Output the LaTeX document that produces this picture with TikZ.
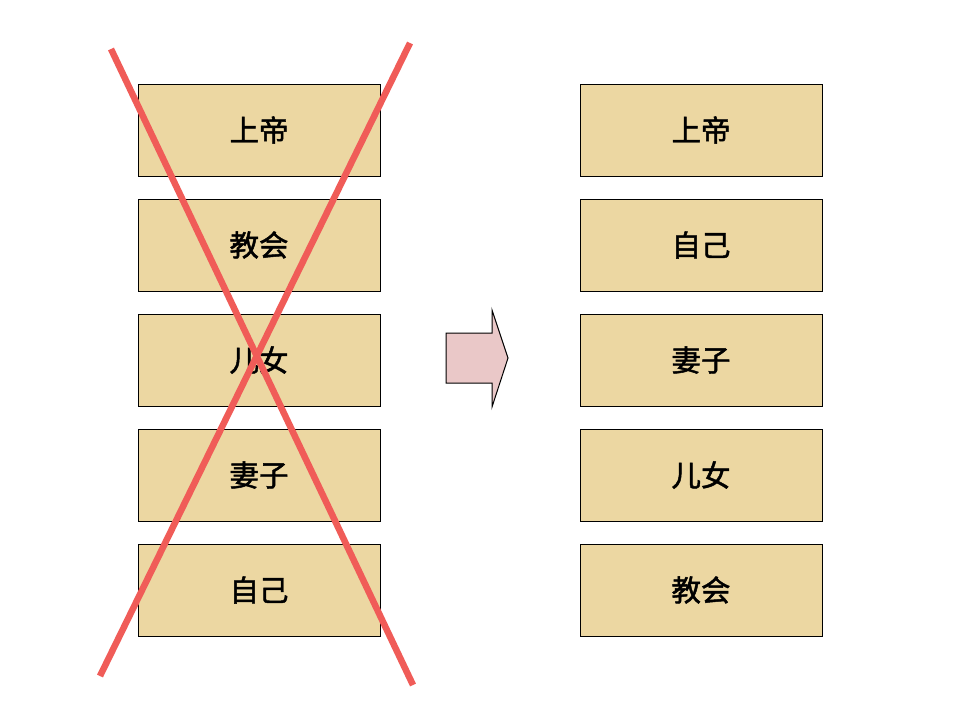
\documentclass[tikz,border=0pt]{standalone}
\usepackage{fontspec}
\newfontfamily\cjk[FakeBold=1.6]{Noto Sans CJK SC}
\definecolor{papyrus}{RGB}{236,215,162}
\definecolor{pinkarrow}{RGB}{234,200,200}
\definecolor{crossred}{RGB}{240,92,88}
\tikzset{
  card/.style={draw=black, line width=1pt, fill=papyrus, minimum width=242pt, minimum height=92pt, inner sep=0pt, font=\cjk\fontsize{29.5}{29.5}\selectfont, text=black},
  crossline/.style={draw=crossred, line width=6.5pt, line cap=butt},
}
\begin{document}
\begin{tikzpicture}[x=1pt,y=-1pt]
\useasboundingbox (0,0) rectangle (960,720);
\fill[white] (0,0) rectangle (960,720);
% left column
\node[card] (l1) at (259,130) {上帝};
\node[card] (l2) at (259,245) {教会};
\node[card] (l3) at (259,360) {儿女};
\node[card] (l4) at (259,475) {妻子};
\node[card] (l5) at (259,590) {自己};
% right column
\node[card] (r1) at (701,130) {上帝};
\node[card] (r2) at (701,245) {自己};
\node[card] (r3) at (701,360) {妻子};
\node[card] (r4) at (701,475) {儿女};
\node[card] (r5) at (701,590) {教会};
% cross
\coordinate (c1a) at (111,49);
\coordinate (c1b) at (413,685);
\coordinate (c2a) at (410,43);
\coordinate (c2b) at (100,676);
\draw[crossline] (c1a) -- (c1b);
\draw[crossline] (c2a) -- (c2b);
% block arrow
\draw[fill=pinkarrow, line width=1pt, line join=miter]
  (446,333) -- (492,333) -- (492,310) -- (508,358) -- (492,407) -- (492,383) -- (446,383) -- cycle;
\end{tikzpicture}
\end{document}
